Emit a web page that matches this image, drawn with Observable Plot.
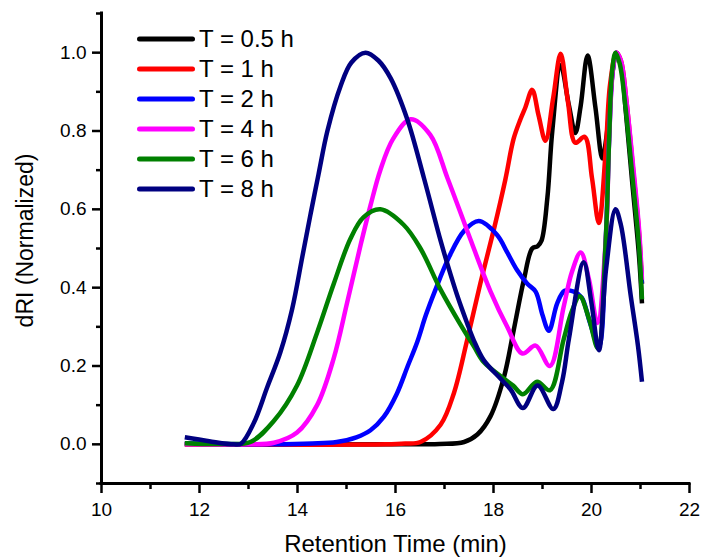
<!DOCTYPE html>
<html><head><meta charset="utf-8">
<script src="https://cdn.jsdelivr.net/npm/d3@7"></script>
<script src="https://cdn.jsdelivr.net/npm/@observablehq/plot@0.6"></script>
<style>
body{margin:0;background:#fff;}
#wrap{position:relative;width:702px;height:560px;font-family:"Liberation Sans",Arial,sans-serif;}
#legend{position:absolute;left:135px;top:24px;}
.row{display:flex;align-items:center;height:30px;font-size:24px;line-height:30px;color:#000;white-space:nowrap;}
.row svg{width:64px;height:30px;display:block;flex:none;}
</style></head><body><div id="wrap"></div>
<script>
const seriesNames = ["T = 0.5 h","T = 1 h","T = 2 h","T = 4 h","T = 6 h","T = 8 h"];
const seriesColors = ["#000000","#ff0000","#0000ff","#ff00ff","#008000","#000080"];
const xMajorTicks = [10,12,14,16,18,20,22];
const xMinorTicks = [11,13,15,17,19,21];
const yMajorTicks = [0,0.2,0.4,0.6,0.8,1.0];
const yMinorTicks = [-0.1,0.1,0.3,0.5,0.7,0.9,1.1];
const xTitle = "Retention Time (min)";
const yTitle = "dRI (Normalized)";

const t05 = [[11.7,0],[16.0,0],[16.9,0.001],[17.4,0.006],[17.67,0.025],[17.94,0.072],[18.21,0.17],[18.41,0.29],[18.62,0.42],[18.79,0.5],[18.9,0.506],[18.98,0.52],[19.1,0.63],[19.2,0.8],[19.37,0.968],[19.54,0.865],[19.67,0.795],[19.78,0.865],[19.92,0.993],[20.08,0.86],[20.22,0.73],[20.3,0.78],[20.38,0.88],[20.44,0.96],[20.51,1.0],[20.6,0.97],[20.7,0.85],[20.83,0.67],[20.97,0.48],[21.03,0.36]];
const t1 = [[11.7,0],[15.8,0],[16.2,0.002],[16.51,0.006],[16.92,0.05],[17.19,0.13],[17.46,0.265],[17.73,0.41],[18.01,0.55],[18.24,0.675],[18.41,0.78],[18.55,0.83],[18.65,0.86],[18.79,0.905],[18.92,0.84],[19.06,0.775],[19.22,0.886],[19.37,0.997],[19.52,0.874],[19.67,0.77],[19.86,0.785],[20.01,0.68],[20.15,0.565],[20.29,0.75],[20.38,0.92],[20.51,1.0],[20.6,0.98],[20.71,0.88],[20.85,0.7],[20.97,0.54],[21.03,0.41]];
const t2 = [[11.7,0.003],[12.5,0.001],[13.5,0.0],[14.3,0.002],[14.8,0.006],[15.2,0.018],[15.49,0.036],[15.76,0.07],[16.03,0.13],[16.25,0.2],[16.44,0.26],[16.62,0.33],[16.8,0.39],[17.1,0.48],[17.4,0.545],[17.7,0.57],[18.07,0.535],[18.28,0.49],[18.48,0.445],[18.69,0.41],[18.86,0.39],[19.0,0.33],[19.13,0.29],[19.3,0.36],[19.45,0.392],[19.64,0.39],[19.8,0.375],[19.97,0.31],[20.15,0.25],[20.29,0.52],[20.36,0.78],[20.43,0.95],[20.51,1.0],[20.6,0.975],[20.7,0.87],[20.84,0.69],[20.97,0.52],[21.03,0.41]];
const t4 = [[11.7,0],[13.0,0],[13.52,0.004],[13.99,0.03],[14.4,0.1],[14.74,0.22],[15.01,0.36],[15.29,0.51],[15.49,0.61],[15.69,0.7],[15.95,0.78],[16.31,0.83],[16.71,0.79],[17.06,0.68],[17.39,0.57],[17.53,0.523],[17.94,0.39],[18.28,0.3],[18.59,0.232],[18.86,0.252],[19.15,0.2],[19.43,0.35],[19.6,0.44],[19.78,0.49],[19.95,0.42],[20.12,0.31],[20.29,0.52],[20.36,0.78],[20.44,0.96],[20.51,1.0],[20.6,0.98],[20.71,0.88],[20.85,0.71],[20.97,0.55],[21.03,0.42]];
const t6 = [[11.7,0.003],[12.5,0.001],[13.04,0.006],[13.52,0.06],[13.99,0.15],[14.4,0.285],[14.74,0.41],[15.08,0.525],[15.35,0.58],[15.69,0.6],[16.17,0.56],[16.51,0.5],[16.92,0.395],[17.33,0.305],[17.6,0.25],[17.8,0.21],[18.21,0.168],[18.4,0.15],[18.6,0.128],[18.89,0.16],[19.15,0.138],[19.43,0.267],[19.6,0.34],[19.76,0.378],[19.95,0.32],[20.13,0.245],[20.29,0.52],[20.36,0.78],[20.42,0.95],[20.49,1.0],[20.58,0.97],[20.69,0.865],[20.83,0.69],[20.97,0.506],[21.03,0.37]];
const t8 = [[11.7,0.018],[12.2,0.008],[12.7,0.0],[12.85,0.002],[13.11,0.055],[13.38,0.145],[13.65,0.235],[13.89,0.345],[14.1,0.48],[14.27,0.59],[14.43,0.69],[14.61,0.8],[14.88,0.915],[15.1,0.975],[15.39,1.0],[15.65,0.98],[15.9,0.935],[16.24,0.83],[16.58,0.68],[16.92,0.52],[17.06,0.46],[17.26,0.38],[17.46,0.31],[17.6,0.265],[17.8,0.215],[18.14,0.168],[18.35,0.14],[18.6,0.093],[18.9,0.15],[19.22,0.09],[19.4,0.16],[19.54,0.27],[19.84,0.465],[20.0,0.36],[20.15,0.24],[20.3,0.45],[20.49,0.6],[20.6,0.56],[20.8,0.38],[20.95,0.25],[21.03,0.16]];
const allSeries = [t05, t1, t2, t4, t6, t8];

const fmt = d3.format(".1f");
const lineMarks = allSeries.map((s, i) => Plot.line(s, {
  x: d => d[0], y: d => d[1], stroke: seriesColors[i], strokeWidth: 4.5,
  curve: "catmull-rom", strokeLinejoin: "round", strokeLinecap: "butt"
}));

const chart = Plot.plot({
  width: 702, height: 560,
  marginLeft: 101, marginRight: 13, marginTop: 13, marginBottom: 77,
  style: {fontFamily: "'Liberation Sans', Arial, sans-serif", background: "white", color: "black"},
  x: {domain: [10, 22]},
  y: {domain: [-0.1, 1.1]},
  marks: [
    ...lineMarks,
    Plot.axisX({ticks: xMajorTicks, tickSize: 10, tickPadding: 9, fontSize: 19, strokeWidth: 2.5, label: null, tickFormat: d => String(d)}),
    Plot.axisX({ticks: xMinorTicks, tickSize: 6, strokeWidth: 2.5, label: null, tickFormat: () => ""}),
    Plot.axisY({ticks: yMajorTicks, tickSize: 9, tickPadding: 6, fontSize: 19, strokeWidth: 2.5, label: null, tickFormat: fmt}),
    Plot.axisY({ticks: yMinorTicks, tickSize: 5, strokeWidth: 2.5, label: null, tickFormat: () => ""}),
    Plot.ruleX([10], {strokeWidth: 3, strokeLinecap: "square"}),
    Plot.ruleY([-0.1], {strokeWidth: 3, strokeLinecap: "square"}),
    Plot.text([xTitle], {frameAnchor: "bottom", textAnchor: "middle", lineAnchor: "middle", dy: 61, fontSize: 24, text: d => d}),
    Plot.text([yTitle], {frameAnchor: "left", textAnchor: "middle", lineAnchor: "middle", rotate: -90, dx: -76, dy: -8, fontSize: 23, text: d => d})
  ]
});

const wrap = document.getElementById("wrap");
wrap.appendChild(chart);
const legend = document.createElement("div");
legend.id = "legend";
seriesNames.forEach((name, i) => {
  const row = document.createElement("div");
  row.className = "row";
  row.innerHTML = `<svg viewBox="0 0 64 30"><line x1="4.5" y1="15" x2="57.5" y2="15" stroke="${seriesColors[i]}" stroke-width="5" stroke-linecap="round"/></svg><span>${name}</span>`;
  legend.appendChild(row);
});
wrap.appendChild(legend);
</script></body></html>
